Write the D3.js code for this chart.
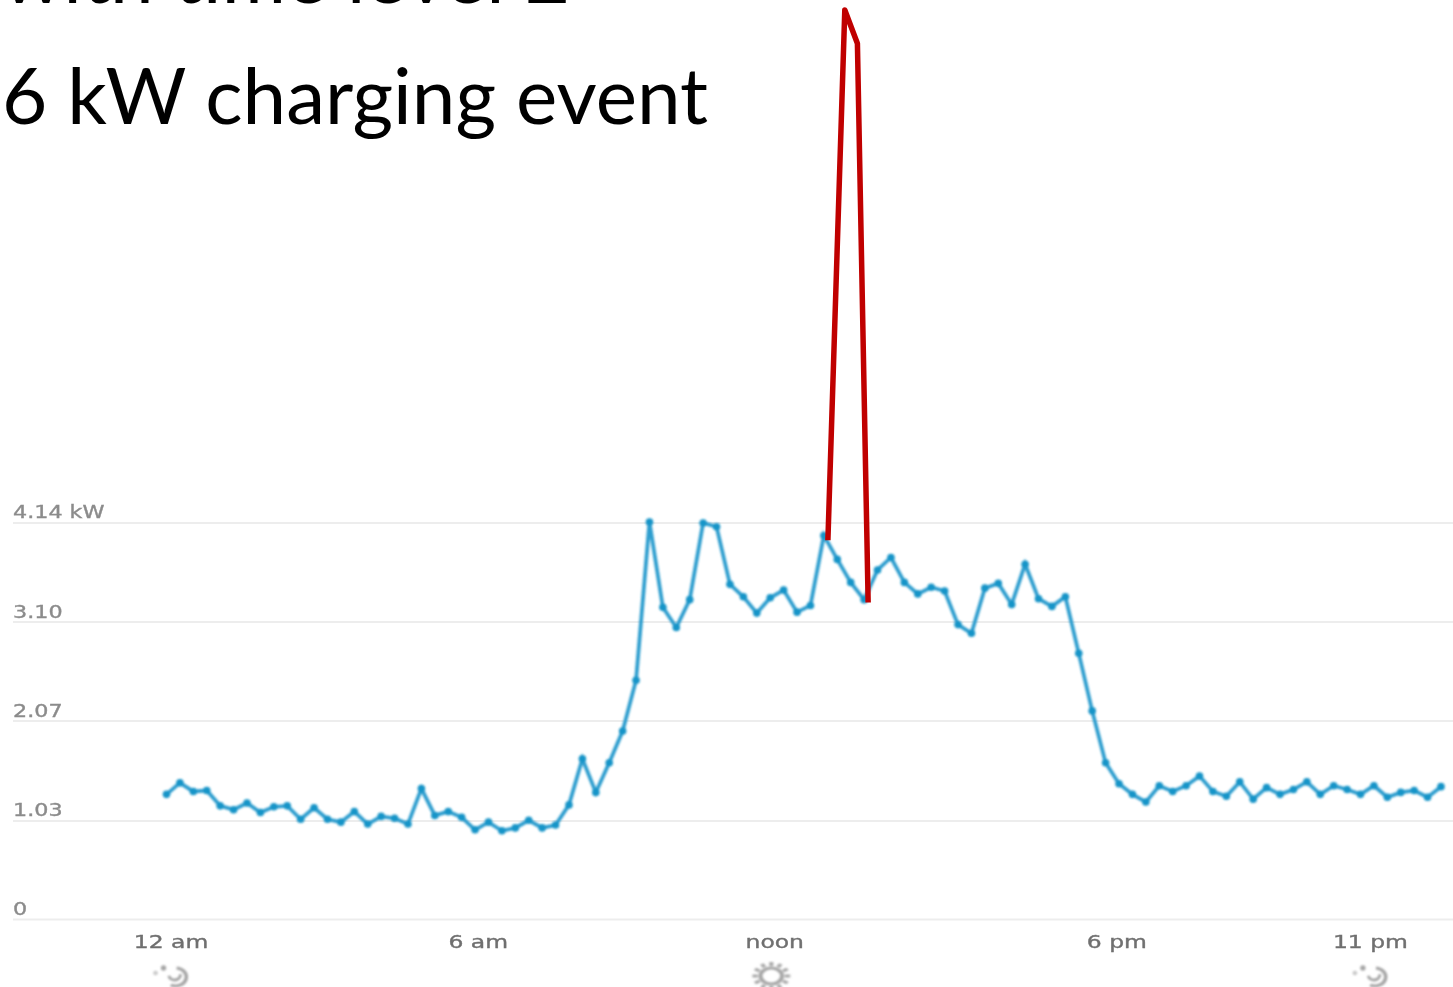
<!DOCTYPE html>
<html>
<head>
<meta charset="utf-8">
<script src="https://cdnjs.cloudflare.com/ajax/libs/d3/7.8.5/d3.min.js"></script>
<style>
  body { margin:0; background:#fff; }
  svg { display:block; }
  .grid line { stroke:#ededed; stroke-width:2; }
  .grid text { font-family:"DejaVu Sans"; fill:#8b8b8b; stroke:#8b8b8b; stroke-width:0.35; }
  .xAxis text { font-family:"DejaVu Sans"; fill:#6f6f6f; stroke:#6f6f6f; stroke-width:0.35; }
  .title { font-family:Lato; fill:#000; }
</style>
</head>
<body>
<svg></svg>
<script>
// demand readings, one per 15 minutes, kW
var demand = [
  1.30,1.42,1.33,1.34,1.18,1.14,1.21,1.11,1.17,1.18,1.04,1.16,1.04,1.01,1.12,0.99,1.07,1.05,
  0.99,1.36,1.08,1.12,1.06,0.93,1.01,0.92,0.95,1.03,0.95,0.98,1.19,1.67,1.32,1.63,1.96,
  2.49,4.14,3.25,3.04,3.33,4.13,4.09,3.49,3.36,3.19,3.35,3.43,3.20,3.27,4.00,3.75,3.51,3.33,
  3.64,3.77,3.51,3.39,3.46,3.42,3.07,2.98,3.45,3.50,3.28,3.70,3.34,3.26,3.36,2.77,2.17,1.63,
  1.41,1.30,1.22,1.39,1.33,1.39,1.49,1.33,1.28,1.43,1.25,1.37,1.30,1.35,1.43,1.30,1.39,1.35,
  1.30,1.39,1.27,1.32,1.34,1.27,1.38
];
// the added charging event drawn over the top
var eventSlot = [49.3,50.56,51.5,52.3];
var eventKw = [3.95,9.48,9.13,3.30];

var yTicks = [0,1.03,2.07,3.10,4.14];
var yLabels = ["0","1.03","2.07","3.10","4.14 kW"];
var xSlots = [0.3,23.2,45.3,70.8,89.7];
var xLabels = ["12 am","6 am","noon","6 pm","11 pm"];
var xIcons = ["moon","","sun","","moon"];
var titleLines = ["with time level 2","6 kW charging event"];

var screen = { width:1453, height:987 };

var svg = d3.select("svg")
            .attr("width",screen.width)
            .attr("height",screen.height);

var defs = svg.append("defs");
defs.append("filter").attr("id","soft")
    .append("feGaussianBlur").attr("stdDeviation",0.8);
defs.append("filter").attr("id","softer")
    .append("feGaussianBlur").attr("stdDeviation",0.5);
defs.append("filter").attr("id","softest")
    .append("feGaussianBlur").attr("stdDeviation",1.1);

var xScale = d3.scaleLinear().domain([0,95]).range([166.5,1441]);
var yScale = d3.scaleLinear().domain([0,4.14]).range([919,522]);

// grid and y labels
var yAxis = d3.axisRight(yScale)
              .tickValues(yTicks)
              .tickSize(1440)
              .tickFormat(function(d,i){ return yLabels[i]; });
var grid = svg.append("g").classed("grid",true)
              .attr("transform","translate(13,0)")
              .attr("filter","url(#softer)")
              .call(yAxis);
grid.select(".domain").remove();
grid.selectAll("text")
    .attr("x",0).attr("dy",0)
    .attr("text-anchor","start")
    .style("font-size","17px")
    .attr("transform","translate(0,-4.5) scale(1.31,1)");

// x labels
var xAxis = d3.axisBottom(xScale)
              .tickValues(xSlots)
              .tickSize(0)
              .tickFormat(function(d,i){ return xLabels[i]; });
var xG = svg.append("g").classed("xAxis",true)
            .attr("transform","translate(0,934)")
            .attr("filter","url(#softer)")
            .call(xAxis);
xG.select(".domain").remove();
xG.selectAll("text")
  .attr("y",0).attr("dy","0.8em")
  .style("font-size","17px")
  .attr("transform","scale(1.38,1)");

// day/night icons under the labels
var icons = svg.append("g").attr("filter","url(#softest)")
               .attr("fill","none").attr("stroke","#a6a6a6").attr("stroke-width",3);
xSlots.forEach(function(s,i){
  var g = icons.append("g").attr("transform","translate("+xScale(s)+",976)");
  if(xIcons[i]=="sun")
  {
    var sun = g.append("g").attr("transform","translate(-3,0) scale(1.35,1)");
    sun.append("circle").attr("r",8);
    d3.range(12).forEach(function(k){
      var a = k*Math.PI/6;
      sun.append("line")
         .attr("x1",Math.cos(a)*10).attr("y1",Math.sin(a)*10)
         .attr("x2",Math.cos(a)*14).attr("y2",Math.sin(a)*14);
    });
  }
  if(xIcons[i]=="moon")
  {
    g.append("path")
     .attr("d",d3.arc().innerRadius(9).outerRadius(9).startAngle(0.1).endAngle(3.6)())
     .attr("transform","translate(5,1) scale(1.2,1)");
    g.append("path")
     .attr("d",d3.arc().innerRadius(6).outerRadius(6).startAngle(1.6).endAngle(4.4)())
     .attr("transform","translate(4,-2)");
    g.append("circle").attr("r",1.2).attr("cx",-7).attr("cy",-8).attr("fill","#a6a6a6");
    g.append("circle").attr("r",0.6).attr("cx",-15).attr("cy",-3);
  }
});

// demand line and points
var line = d3.line()
             .x(function(d,i){ return xScale(i); })
             .y(function(d){ return yScale(d); });
var plot = svg.append("g").attr("filter","url(#soft)");
plot.append("path").datum(demand)
    .attr("d",line)
    .attr("fill","none")
    .attr("stroke","#2f9ecf")
    .attr("stroke-width",3.8);
plot.selectAll("circle").data(demand).enter().append("circle")
    .attr("cx",function(d,i){ return xScale(i); })
    .attr("cy",function(d){ return yScale(d); })
    .attr("r",3.8)
    .attr("fill","#1894c8");

// red event outline
var eventLine = d3.line()
                  .x(function(d,i){ return xScale(eventSlot[i]); })
                  .y(function(d){ return yScale(d); });
svg.append("path").datum(eventKw)
   .attr("d",eventLine)
   .attr("fill","none")
   .attr("stroke","#c00000")
   .attr("stroke-width",5.5)
   .attr("stroke-linejoin","round");

// slide text, the first line runs off the top like the original slide
svg.selectAll(".title").data(titleLines).enter().append("text")
   .classed("title",true)
   .attr("x",2)
   .attr("y",function(d,i){ return i==0 ? 2.5 : 124; })
   .attr("textLength",function(d,i){ return i==0 ? 568 : 706; })
   .attr("lengthAdjust","spacingAndGlyphs")
   .style("font-size","78px")
   .text(function(d){ return d; });
</script>
</body>
</html>
